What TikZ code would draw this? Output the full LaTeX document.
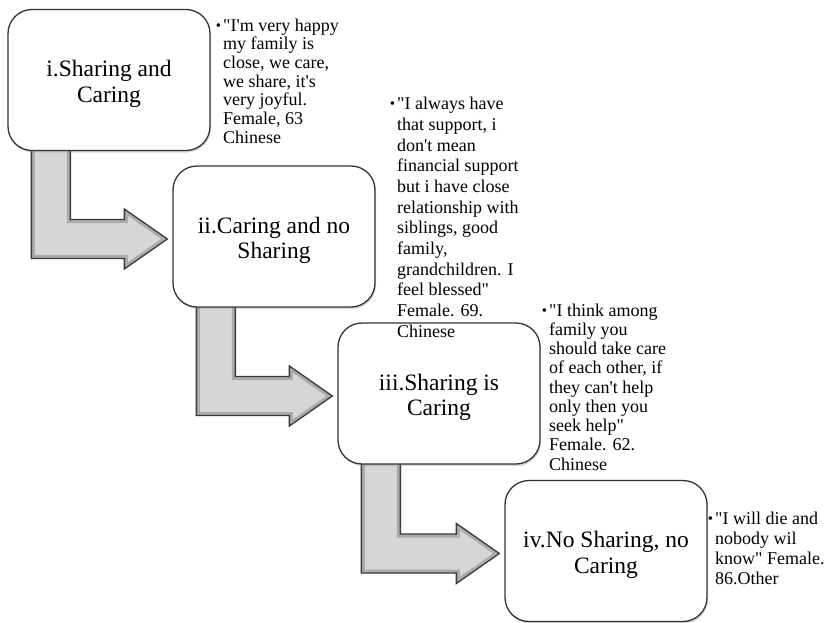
\documentclass[tikz,border=0pt]{standalone}
\usepackage{fontspec}
\setmainfont{Liberation Serif}[Ligatures=TeXOff]
\usetikzlibrary{calc,shadows}
\pgfdeclarelayer{background}
\pgfsetlayers{background,main}
\definecolor{edgecol}{HTML}{333333}
\definecolor{arrowfill}{HTML}{D6D6D6}
\definecolor{arrowbevel}{HTML}{ABABAB}
\definecolor{arrowedge}{HTML}{3A3A3A}
\newcommand\blockarrow[2]{%
  \path let \p1=($(#1.south west)+(24,-10)$), \p2=($(#2.west)+(-5,2.5)$) in
    coordinate (#1-a1) at (\x1,\y1)
    coordinate (#1-a2) at (\x1,\y2-19.5pt)
    coordinate (#1-a3) at (\x2-43pt,\y2-19.5pt)
    coordinate (#1-a4) at (\x2-43pt,\y2-30pt)
    coordinate (#1-a5) at (\x2,\y2)
    coordinate (#1-a6) at (\x2-43pt,\y2+30pt)
    coordinate (#1-a7) at (\x2-43pt,\y2+19.5pt)
    coordinate (#1-a8) at (\x1+39pt,\y2+19.5pt)
    coordinate (#1-a9) at (\x1+39pt,\y1);
  \def\ap{(#1-a1)--(#1-a2)--(#1-a3)--(#1-a4)--(#1-a5)--(#1-a6)--(#1-a7)--(#1-a8)--(#1-a9)--cycle}%
  \begin{pgfonlayer}{background}
    \fill[black,opacity=0.18,xshift=1.5pt,yshift=-2pt] \ap;
    \begin{scope}
      \clip \ap;
      \fill[arrowfill] \ap;
      \draw[arrowbevel,line width=7pt,line join=miter] \ap;
    \end{scope}
    \draw[arrowedge,line width=1.3pt,line join=miter] \ap;
  \end{pgfonlayer}
}
\begin{document}
\begin{tikzpicture}[x=1pt,y=-1pt,
  stage/.style={draw=edgecol,line width=1.3pt,fill=white,rounded corners=24pt,
    minimum width=202pt,minimum height=141pt,inner sep=0pt,align=center,
    font=\fontsize{23.5}{25.5}\selectfont,
    drop shadow={shadow xshift=1pt,shadow yshift=-2pt,opacity=0.3}},
  quote/.style={anchor=north west,inner sep=0pt,align=left,text=black}
]
\begin{pgfonlayer}{background}
\fill[white] (0,0) rectangle (832,623);
\end{pgfonlayer}
\useasboundingbox (0,0) rectangle (832,623);

\newcommand\tp{\rule{0pt}{24.5pt}}
\node[stage] (s1) at (109,80) {\tp i.Sharing and\\Caring};
\node[stage] (s2) at (274,236.5) {\tp ii.Caring and no\\Sharing};
\node[stage] (s3) at (439,393.5) {\tp iii.Sharing is\\Caring};
\node[stage] (s4) at (606,551) {\tp iv.No Sharing, no\\Caring};

\blockarrow{s1}{s2}
\blockarrow{s2}{s3}
\blockarrow{s3}{s4}

\newcommand\qb{\leavevmode\llap{\raisebox{1pt}{\fontsize{15}{15}\selectfont\textbullet}\hspace{2pt}}}

\node[quote,font=\fontsize{18}{18.7}\selectfont] (q1) at (223,18.5)
  {\qb"I'm very happy\\my family is\\close, we care,\\we share, it's\\very joyful.\\Female, 63\\Chinese};
\node[quote,font=\fontsize{18}{20.7}\selectfont] (q2) at (397,97)
  {\qb"I always have\\that support, i\\don't mean\\financial support\\but i have close\\relationship with\\siblings, good\\family,\\grandchildren. I\\feel blessed"\\Female. 69.\\Chinese};
\node[quote,font=\fontsize{18}{19.25}\selectfont] (q3) at (549,303.5)
  {\qb"I think among\\family you\\should take care\\of each other, if\\they can't help\\only then you\\seek help"\\Female. 62.\\Chinese};
\node[quote,font=\fontsize{18}{20}\selectfont] (q4) at (715,511.5)
  {\qb"I will die and\\nobody wil\\know" Female.\\86.Other};
\end{tikzpicture}
\end{document}
